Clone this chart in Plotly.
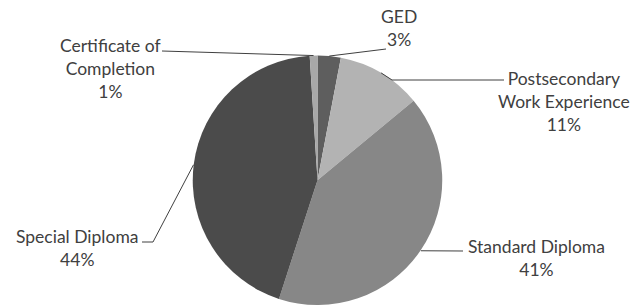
import math
import plotly.graph_objects as go

# ---- data ----
categories = ["GED", "Postsecondary<br>Work Experience", "Standard Diploma", "Special Diploma", "Certificate of<br>Completion"]
values = [3, 11, 41, 44, 1]
pct_labels = ["3%", "11%", "41%", "44%", "1%"]
colors = ["#5e5e5e", "#b3b3b3", "#878787", "#4b4b4b", "#a8a8a8"]

W, H = 642, 305
CX, CY, R = 317.5, 180.5, 125.0

# label layout (pixel positions of label centres and leader-line attach points)
label_pos = [(399, 28), (564, 101), (536, 258), (77, 248), (110, 69)]
attach = [(386, 49), (504, 80), (463, 251), (142, 242), (162, 51)]
stub = [0, -112, 0, 11, 0]

def px(x):
    return x / W

def py(y):
    return 1 - y / H

fig = go.Figure()
fig.add_trace(go.Pie(
    labels=categories,
    values=values,
    sort=False,
    direction="clockwise",
    rotation=0,
    textinfo="none",
    hoverinfo="label+percent",
    marker=dict(colors=colors, line=dict(width=0)),
    showlegend=False,
    domain=dict(x=[px(CX - R), px(CX + R)], y=[max(0, py(CY + R)), py(CY - R)]),
))

total = sum(values)
cum = 0.0
shapes = []
annotations = []
for i, v in enumerate(values):
    mid = (cum + v / 2) / total * 2 * math.pi
    cum += v
    ax = CX + R * math.sin(mid)
    ay = CY - R * math.cos(mid)
    x0, y0 = attach[i]
    pts = [(x0, y0)]
    if stub[i]:
        pts.append((x0 + stub[i], y0))
    pts.append((ax, ay))
    for (xa, ya), (xb, yb) in zip(pts[:-1], pts[1:]):
        shapes.append(dict(type="line", xref="paper", yref="paper",
                           x0=px(xa), y0=py(ya), x1=px(xb), y1=py(yb),
                           line=dict(color="#404040", width=1)))
    lx, ly = label_pos[i]
    annotations.append(dict(
        x=px(lx), y=py(ly), xref="paper", yref="paper",
        text=f"{categories[i]}<br>{pct_labels[i]}",
        showarrow=False, xanchor="center", yanchor="middle", align="center",
        font=dict(family="Lato", size=17.5, color="#404040"),
    ))

fig.update_layout(
    width=W, height=H,
    margin=dict(l=0, r=0, t=0, b=0),
    paper_bgcolor="white", plot_bgcolor="white",
    shapes=shapes, annotations=annotations,
)

fig.write_html("out.html", config={"displayModeBar": False},
               post_script="document.body.style.margin='0';")
